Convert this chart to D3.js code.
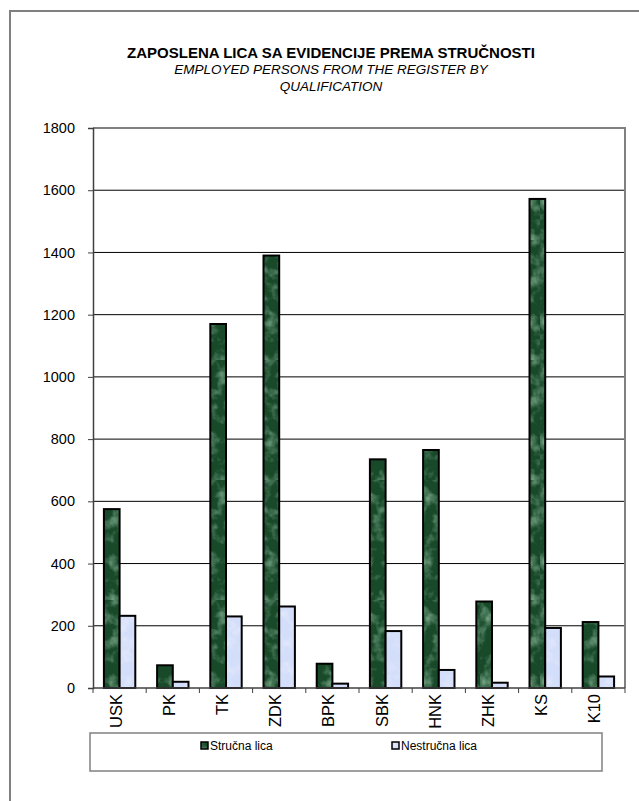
<!DOCTYPE html>
<html><head><meta charset="utf-8">
<script src="https://cdn.jsdelivr.net/npm/d3@7"></script>
<style>body{margin:0;background:#fff;}svg{display:block;font-family:"Liberation Sans",Arial,sans-serif;}</style>
</head><body>
<script>
const categories = ["USK","PK","TK","ZDK","BPK","SBK","HNK","ZHK","KS","K10"];
const strucna = [575,73,1170,1390,78,735,765,278,1572,212];
const nestrucna = [232,20,230,262,14,183,58,17,193,37];
const seriesNames = ["Stručna lica","Nestručna lica"];
const yTicks = [0,200,400,600,800,1000,1200,1400,1600,1800];
const titleLines = ["ZAPOSLENA LICA SA EVIDENCIJE PREMA STRUČNOSTI","EMPLOYED PERSONS FROM THE REGISTER BY","QUALIFICATION"];

const W=639,H=801;
const svg=d3.select("body").append("svg").attr("width",W).attr("height",H);
const defs=svg.append("defs");
function marble(id,base,seed,freq,light){
  const f=defs.append("filter").attr("id",id+"f").attr("x",0).attr("y",0).attr("width","100%").attr("height","100%");
  f.append("feTurbulence").attr("type","fractalNoise").attr("baseFrequency",freq).attr("numOctaves",3).attr("seed",seed).attr("result","n");
  f.append("feColorMatrix").attr("in","n").attr("type","matrix")
   .attr("values",`0 0 0 0 ${light[0]}  0 0 0 0 ${light[1]}  0 0 0 0 ${light[2]}  1.6 0 0 0 -0.75`).attr("result","c");
  f.append("feComposite").attr("in","c").attr("in2","SourceGraphic").attr("operator","in");
  const p=defs.append("pattern").attr("id",id).attr("patternUnits","userSpaceOnUse").attr("width",60).attr("height",120);
  p.append("rect").attr("width",60).attr("height",120).attr("fill",base);
  p.append("rect").attr("width",60).attr("height",120).attr("fill","#fff").attr("filter",`url(#${id}f)`);
}
marble("gpat","#184a2a",3,0.08,[0.33,0.58,0.4]);
marble("bpat","#d3defa",7,0.08,[0.88,0.88,0.97]);
const fills=["url(#gpat)","url(#bpat)"];

// outer frame
svg.append("path").attr("d",`M10,${H} L10,11 L${W},11`).attr("fill","none").attr("stroke","#808080").attr("stroke-width",2);

// title
const t=svg.append("text").attr("text-anchor","middle").attr("fill","#000");
titleLines.forEach((s,i)=>{
  t.append("tspan").attr("x",331).attr("y",[58,74,91][i]).text(s)
   .attr("font-size",i==0?"15px":"13.5px").attr("font-weight",i==0?"bold":"normal").attr("font-style",i==0?"normal":"italic");
});

const L=93,R=625,T=128,B=688;
const x=d3.scaleBand().domain(categories).range([L,R]).paddingInner(0.41).paddingOuter(0.205);
const x1=d3.scaleBand().domain([0,1]).range([0,x.bandwidth()]);
const y=d3.scaleLinear().domain([0,1800]).range([B,T]);

// gridlines
svg.append("g").selectAll("line").data(yTicks.filter(v=>v>0&&v<1800)).join("line")
  .attr("x1",L).attr("x2",R).attr("y1",d=>y(d)).attr("y2",d=>y(d)).attr("stroke","#000").attr("stroke-width",1);
// plot border top/right
svg.append("path").attr("d",`M${L},${y(1800)} L${R},${y(1800)} L${R},${B}`).attr("fill","none").attr("stroke","#808080").attr("stroke-width",2);

// y axis
const ya=svg.append("g").attr("transform",`translate(${L},0)`).call(d3.axisLeft(y).tickValues(yTicks).tickSize(5).tickPadding(13).tickFormat(d3.format("d")));
ya.select(".domain").attr("stroke","#404040").attr("stroke-width",1.5);
ya.selectAll(".tick line").attr("stroke","#404040");
ya.selectAll("text").attr("font-size","14.5px").attr("fill","#000").attr("font-family","Liberation Sans, Arial, sans-serif");

// bars
const data=categories.map((c,i)=>({c,v:[strucna[i],nestrucna[i]]}));
const g=svg.append("g");
data.forEach(d=>{
  d.v.forEach((v,j)=>{
    g.append("rect").attr("x",x(d.c)+x1(j)).attr("y",y(v)).attr("width",x1.bandwidth()).attr("height",y(0)-y(v))
     .attr("fill",fills[j]).attr("stroke","#000").attr("stroke-width",2);
  });
});

// x axis
const step=x.step();
const xa=svg.append("g");
xa.append("line").attr("x1",L).attr("x2",R).attr("y1",B).attr("y2",B).attr("stroke","#404040").attr("stroke-width",1.5);
xa.selectAll(".tk").data(d3.range(categories.length+1)).join("line").attr("class","tk")
  .attr("x1",i=>L+i*step).attr("x2",i=>L+i*step).attr("y1",B).attr("y2",B+5).attr("stroke","#404040");
xa.selectAll("text").data(categories).join("text")
  .attr("transform",d=>`translate(${x(d)+x.bandwidth()/2+2},${B+6}) rotate(-90)`)
  .attr("text-anchor","end").attr("font-size","16.5px").attr("fill","#000").text(d=>d);

// legend
const lg=svg.append("g");
lg.append("rect").attr("x",90).attr("y",733).attr("width",512).attr("height",38).attr("fill","#fff").attr("stroke","#808080").attr("stroke-width",1.5);
const lx=[201,392];
seriesNames.forEach((s,i)=>{
  lg.append("rect").attr("x",lx[i]).attr("y",742).attr("width",7).attr("height",7).attr("fill",fills[i]).attr("stroke","#000").attr("stroke-width",1.5);
  lg.append("text").attr("x",lx[i]+9).attr("y",750).attr("font-size","12px").attr("fill","#000").text(s);
});
</script>
</body></html>
